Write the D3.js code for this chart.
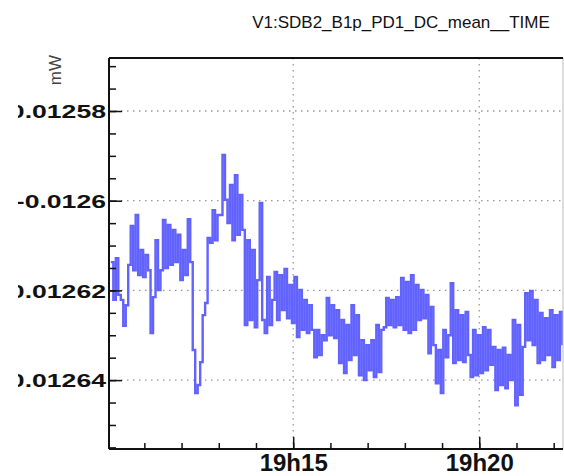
<!DOCTYPE html>
<html>
<head>
<meta charset="utf-8">
<script src="https://cdn.jsdelivr.net/npm/d3@7"></script>
<style>
  body { margin: 0; background: #fff; }
  svg { display: block; font-family: "Liberation Sans", Arial, sans-serif; }
</style>
</head>
<body>
<svg id="chart" width="564" height="476"></svg>
<script>
// chart data
const title = "V1:SDB2_B1p_PD1_DC_mean__TIME";
const yUnit = "mW";
const startTime = new Date(2000, 0, 1, 19, 10, 6);
const sampleSeconds = 4;
const yTickValues = [-0.01258, -0.0126, -0.01262, -0.01264];
const xTickLabels = ["19h15", "19h20"];
const xTickTimes = [new Date(2000, 0, 1, 19, 15), new Date(2000, 0, 1, 19, 20)];

// mean PD1 DC value, one sample every 4 s
const values = [
  -0.0126137, -0.0126221, -0.0126128, -0.0126210, -0.0126221, -0.0126279, -0.0126233,
  -0.0126143, -0.0126056, -0.0126155, -0.0126032, -0.0126166, -0.0126110, -0.0126170,
  -0.0126121, -0.0126155, -0.0126295, -0.0126215, -0.0126088, -0.0126199, -0.0126155,
  -0.0126043, -0.0126150, -0.0126054, -0.0126143, -0.0126065, -0.0126137, -0.0126076,
  -0.0126177, -0.0126110, -0.0126166, -0.0126041, -0.0126137, -0.0126333, -0.0126429,
  -0.0126411, -0.0126360, -0.0126255, -0.0126228, -0.0126083, -0.0126094, -0.0126021,
  -0.0126088, -0.0126032, -0.0126032, -0.0125898, -0.0125998, -0.0126050, -0.0125965,
  -0.0126088, -0.0125943, -0.0126076, -0.0125987, -0.0126065, -0.0126277, -0.0126088,
  -0.0126266, -0.0126110, -0.0126282, -0.0126177, -0.0126005, -0.0126266, -0.0126295,
  -0.0126170, -0.0126277, -0.0126221, -0.0126159, -0.0126266, -0.0126166, -0.0126244,
  -0.0126152, -0.0126262, -0.0126188, -0.0126273, -0.0126170, -0.0126304, -0.0126199,
  -0.0126288, -0.0126221, -0.0126295, -0.0126233, -0.0126288, -0.0126349, -0.0126288,
  -0.0126344, -0.0126300, -0.0126311, -0.0126217, -0.0126300, -0.0126233, -0.0126306,
  -0.0126244, -0.0126362, -0.0126266, -0.0126384, -0.0126277, -0.0126355, -0.0126233,
  -0.0126344, -0.0126255, -0.0126389, -0.0126311, -0.0126400, -0.0126322, -0.0126378,
  -0.0126311, -0.0126393, -0.0126277, -0.0126382, -0.0126288, -0.0126282, -0.0126217,
  -0.0126277, -0.0126221, -0.0126282, -0.0126215, -0.0126277, -0.0126172, -0.0126288,
  -0.0126181, -0.0126295, -0.0126166, -0.0126288, -0.0126188, -0.0126266, -0.0126199,
  -0.0126262, -0.0126210, -0.0126340, -0.0126237, -0.0126322, -0.0126407, -0.0126333,
  -0.0126429, -0.0126288, -0.0126349, -0.0126300, -0.0126184, -0.0126362, -0.0126244,
  -0.0126355, -0.0126255, -0.0126360, -0.0126248, -0.0126344, -0.0126393, -0.0126288,
  -0.0126389, -0.0126300, -0.0126384, -0.0126282, -0.0126378, -0.0126288, -0.0126366,
  -0.0126326, -0.0126422, -0.0126333, -0.0126411, -0.0126328, -0.0126418, -0.0126344,
  -0.0126400, -0.0126266, -0.0126456, -0.0126277, -0.0126433, -0.0126326, -0.0126206,
  -0.0126311, -0.0126201, -0.0126322, -0.0126221, -0.0126362, -0.0126250, -0.0126355,
  -0.0126262, -0.0126344, -0.0126244, -0.0126371, -0.0126255, -0.0126355, -0.0126248,
  -0.0126322
];

const data = values.map((v, i) => ({
  t: new Date(startTime.getTime() + i * sampleSeconds * 1000),
  v: v
}));

const svg = d3.select("#chart");
const plotLeft = 109, plotRight = 563, plotTop = 58, plotBottom = 449;

const x = d3.scaleTime()
  .domain([new Date(2000, 0, 1, 19, 10, 3), new Date(2000, 0, 1, 19, 22, 15)])
  .range([plotLeft, plotRight]);

const y = d3.scaleLinear()
  .domain([-0.01265536, -0.01256818])
  .range([plotBottom, plotTop]);

// dotted grid at major ticks
svg.append("g")
  .selectAll("line")
  .data(xTickTimes)
  .enter().append("line")
  .attr("x1", d => x(d)).attr("x2", d => x(d))
  .attr("y1", plotTop).attr("y2", plotBottom)
  .attr("stroke", "#999").attr("stroke-width", 1.3)
  .attr("stroke-dasharray", "1.5,4.5");

svg.append("g")
  .selectAll("line")
  .data(yTickValues)
  .enter().append("line")
  .attr("x1", plotLeft).attr("x2", plotRight)
  .attr("y1", d => y(d)).attr("y2", d => y(d))
  .attr("stroke", "#999").attr("stroke-width", 1.3)
  .attr("stroke-dasharray", "1.5,4.5");

// the data line
svg.append("clipPath").attr("id", "clip")
  .append("rect").attr("x", plotLeft).attr("y", plotTop)
  .attr("width", plotRight - plotLeft).attr("height", plotBottom - plotTop);

// the pad cuts the long y labels on the left
svg.append("clipPath").attr("id", "padclip")
  .append("rect").attr("x", 18).attr("y", 0).attr("width", 546).attr("height", 476);

const line = d3.line()
  .x(d => x(d.t))
  .y(d => y(d.v))
  .curve(d3.curveStepAfter);

svg.append("path")
  .datum(data)
  .attr("clip-path", "url(#clip)")
  .attr("fill", "none")
  .attr("stroke", "#6262ff")
  .attr("stroke-width", 2.4)
  .attr("d", line);

// frame
svg.append("line").attr("x1", plotRight).attr("x2", plotRight).attr("y1", plotTop).attr("y2", plotBottom)
  .attr("stroke", "#bbb").attr("stroke-width", 1);
svg.append("line").attr("x1", plotLeft).attr("x2", plotRight).attr("y1", plotTop).attr("y2", plotTop)
  .attr("stroke", "#111").attr("stroke-width", 2);

// x axis: minute ticks, labelled every 5 min
const minuteTicks = d3.timeMinute.range(x.domain()[0], x.domain()[1]);
const xMinor = svg.append("g")
  .attr("transform", `translate(0,${plotBottom})`)
  .call(d3.axisBottom(x).tickValues(minuteTicks).tickSize(-6).tickFormat(""));
const xMajor = svg.append("g")
  .attr("transform", `translate(0,${plotBottom})`)
  .call(d3.axisBottom(x).tickValues(xTickTimes).tickSize(-12).tickPadding(6)
    .tickFormat((d, i) => xTickLabels[i]));

// y axis: major + minor ticks inside the frame
const yMinorTicks = d3.range(-0.012655, -0.012565, 0.000005);
const yMinor = svg.append("g")
  .attr("transform", `translate(${plotLeft},0)`)
  .call(d3.axisLeft(y).tickValues(yMinorTicks).tickSize(-7).tickFormat(""));
const yMajor = svg.append("g")
  .attr("clip-path", "url(#padclip)")
  .append("g")
  .attr("transform", `translate(${plotLeft},0)`)
  .call(d3.axisLeft(y).tickValues(yTickValues).tickSize(-13)
    .tickFormat(d => String(+d.toFixed(5))));

[xMinor, xMajor, yMinor, yMajor].forEach(g => {
  g.select(".domain").attr("stroke", "#111").attr("stroke-width", 2);
  g.selectAll(".tick line").attr("stroke", "#111").attr("stroke-width", 1.5);
});
xMinor.select(".domain").attr("d", `M${plotLeft},0H${plotRight}`);
yMinor.select(".domain").attr("d", `M0,${plotTop}V${plotBottom}`);
xMajor.select(".domain").remove();
yMajor.select(".domain").remove();

xMajor.selectAll(".tick text")
  .attr("font-size", 24).attr("font-weight", "bold").attr("fill", "#111")
  .attr("dy", "0.75em").attr("y", 4);

yMajor.selectAll(".tick text")
  .attr("font-size", 19).attr("font-weight", "bold").attr("fill", "#111")
  .attr("x", 0).attr("dy", "0.35em")
  .attr("transform", "translate(-3,0) scale(1.4,1)");

// title and unit
svg.append("text")
  .attr("x", 401).attr("y", 28)
  .attr("text-anchor", "middle")
  .attr("font-size", 17)
  .attr("fill", "#111")
  .text(title);

svg.append("text")
  .attr("transform", "translate(61,55) rotate(-90)")
  .attr("text-anchor", "end")
  .attr("font-size", 17)
  .attr("fill", "#444")
  .text(yUnit);
</script>
</body>
</html>
